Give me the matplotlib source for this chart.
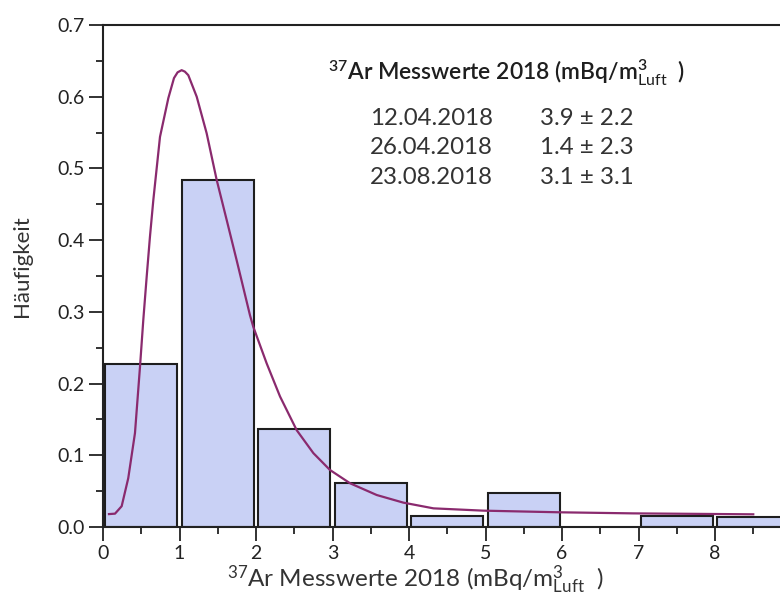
import matplotlib
matplotlib.use("Agg")
import matplotlib.pyplot as plt
from matplotlib.ticker import MultipleLocator

plt.rcParams['font.family'] = ['Lato', 'DejaVu Sans']
plt.rcParams['mathtext.fontset'] = 'custom'
plt.rcParams['mathtext.rm'] = 'Lato'
plt.rcParams['mathtext.it'] = 'Lato'
plt.rcParams['mathtext.bf'] = 'Lato:bold'
plt.rcParams['mathtext.default'] = 'regular'

# histogram data
bin_left = [0, 1, 2, 3, 4, 5, 7, 8]
freq = [0.227, 0.484, 0.136, 0.061, 0.016, 0.047, 0.015, 0.014]

# fitted curve
curve_x = [0.078, 0.157, 0.244, 0.33, 0.418, 0.484, 0.527, 0.571, 0.614, 0.658, 0.745,
           0.854, 0.928, 0.975, 1.028, 1.07, 1.115, 1.225, 1.355, 1.486, 1.617, 1.747,
           1.922, 1.965, 2.14, 2.314, 2.532, 2.75, 2.967, 3.229, 3.578, 3.925, 4.32,
           4.97, 5.97, 6.93, 8.5]
curve_y = [0.018, 0.0186, 0.029, 0.068, 0.131, 0.224, 0.289, 0.349, 0.405, 0.456, 0.544,
           0.598, 0.626, 0.634, 0.637, 0.635, 0.630, 0.600, 0.549, 0.484, 0.428, 0.372,
           0.295, 0.279, 0.228, 0.182, 0.135, 0.103, 0.0795, 0.061, 0.0446, 0.034, 0.026,
           0.0228, 0.0205, 0.019, 0.0177]

dates = ["12.04.2018", "26.04.2018", "23.08.2018"]
values = ["3.9 ± 2.2", "1.4 ± 2.3", "3.1 ± 3.1"]
xticks = [0, 1, 2, 3, 4, 5, 6, 7, 8]
yticks = [0.0, 0.1, 0.2, 0.3, 0.4, 0.5, 0.6, 0.7]

fig = plt.figure(figsize=(7.8, 6.01), dpi=100)
ax = fig.add_axes([103/780, 74/601, 9*76.5/780, 502/601])

ax.bar([b + 0.5 for b in bin_left], freq, width=0.94, color='#c9d1f5',
       edgecolor='#1e1e1e', linewidth=1.5, zorder=2)
ax.plot(curve_x, curve_y, color='#8a2a6e', lw=1.6, zorder=3)

ax.set_xlim(0, 9)
ax.set_ylim(0, 0.7)
ax.set_xticks(xticks)
ax.set_xticklabels([str(t) for t in xticks])
ax.xaxis.set_minor_locator(MultipleLocator(0.5))
ax.set_yticks(yticks)
ax.set_yticklabels([f"{t:.1f}" for t in yticks])
ax.yaxis.set_minor_locator(MultipleLocator(0.05))
ax.tick_params(axis='both', which='major', length=10, width=1.3, direction='out',
               labelsize=14, colors='#222222', pad=3)
ax.tick_params(axis='both', which='minor', length=5, width=1.3, direction='out',
               colors='#222222')
for sp in ax.spines.values():
    sp.set_linewidth(1.5)
    sp.set_color('#222222')

ax.set_ylabel("Häufigkeit", fontsize=16, color='#333333')
ax.yaxis.set_label_coords(-0.103, 0.52)
ax.set_xlabel(r"$^{37}$Ar Messwerte 2018 (mBq/m$^{3}_{\mathrm{Luft}}$  )", fontsize=17.5,
              color='#333333')
ax.xaxis.set_label_coords(0.453, -0.073)

fig.text(507/780, 1 - 73/601,
         r"$^{37}$Ar Messwerte 2018 (mBq/m$^{3}_{\mathrm{Luft}}$  )",
         fontsize=16.5, fontweight='semibold', ha='center', va='center', color='#1e1e1e')
rows_y = [118, 148, 178]
for d, v, yy in zip(dates, values, rows_y):
    fig.text(370/780, 1 - yy/601, d, fontsize=17.3, ha='left', va='center', color='#333333')
    fig.text(540/780, 1 - yy/601, v, fontsize=17.3, ha='left', va='center', color='#333333')

fig.savefig("out.png", dpi=100)
